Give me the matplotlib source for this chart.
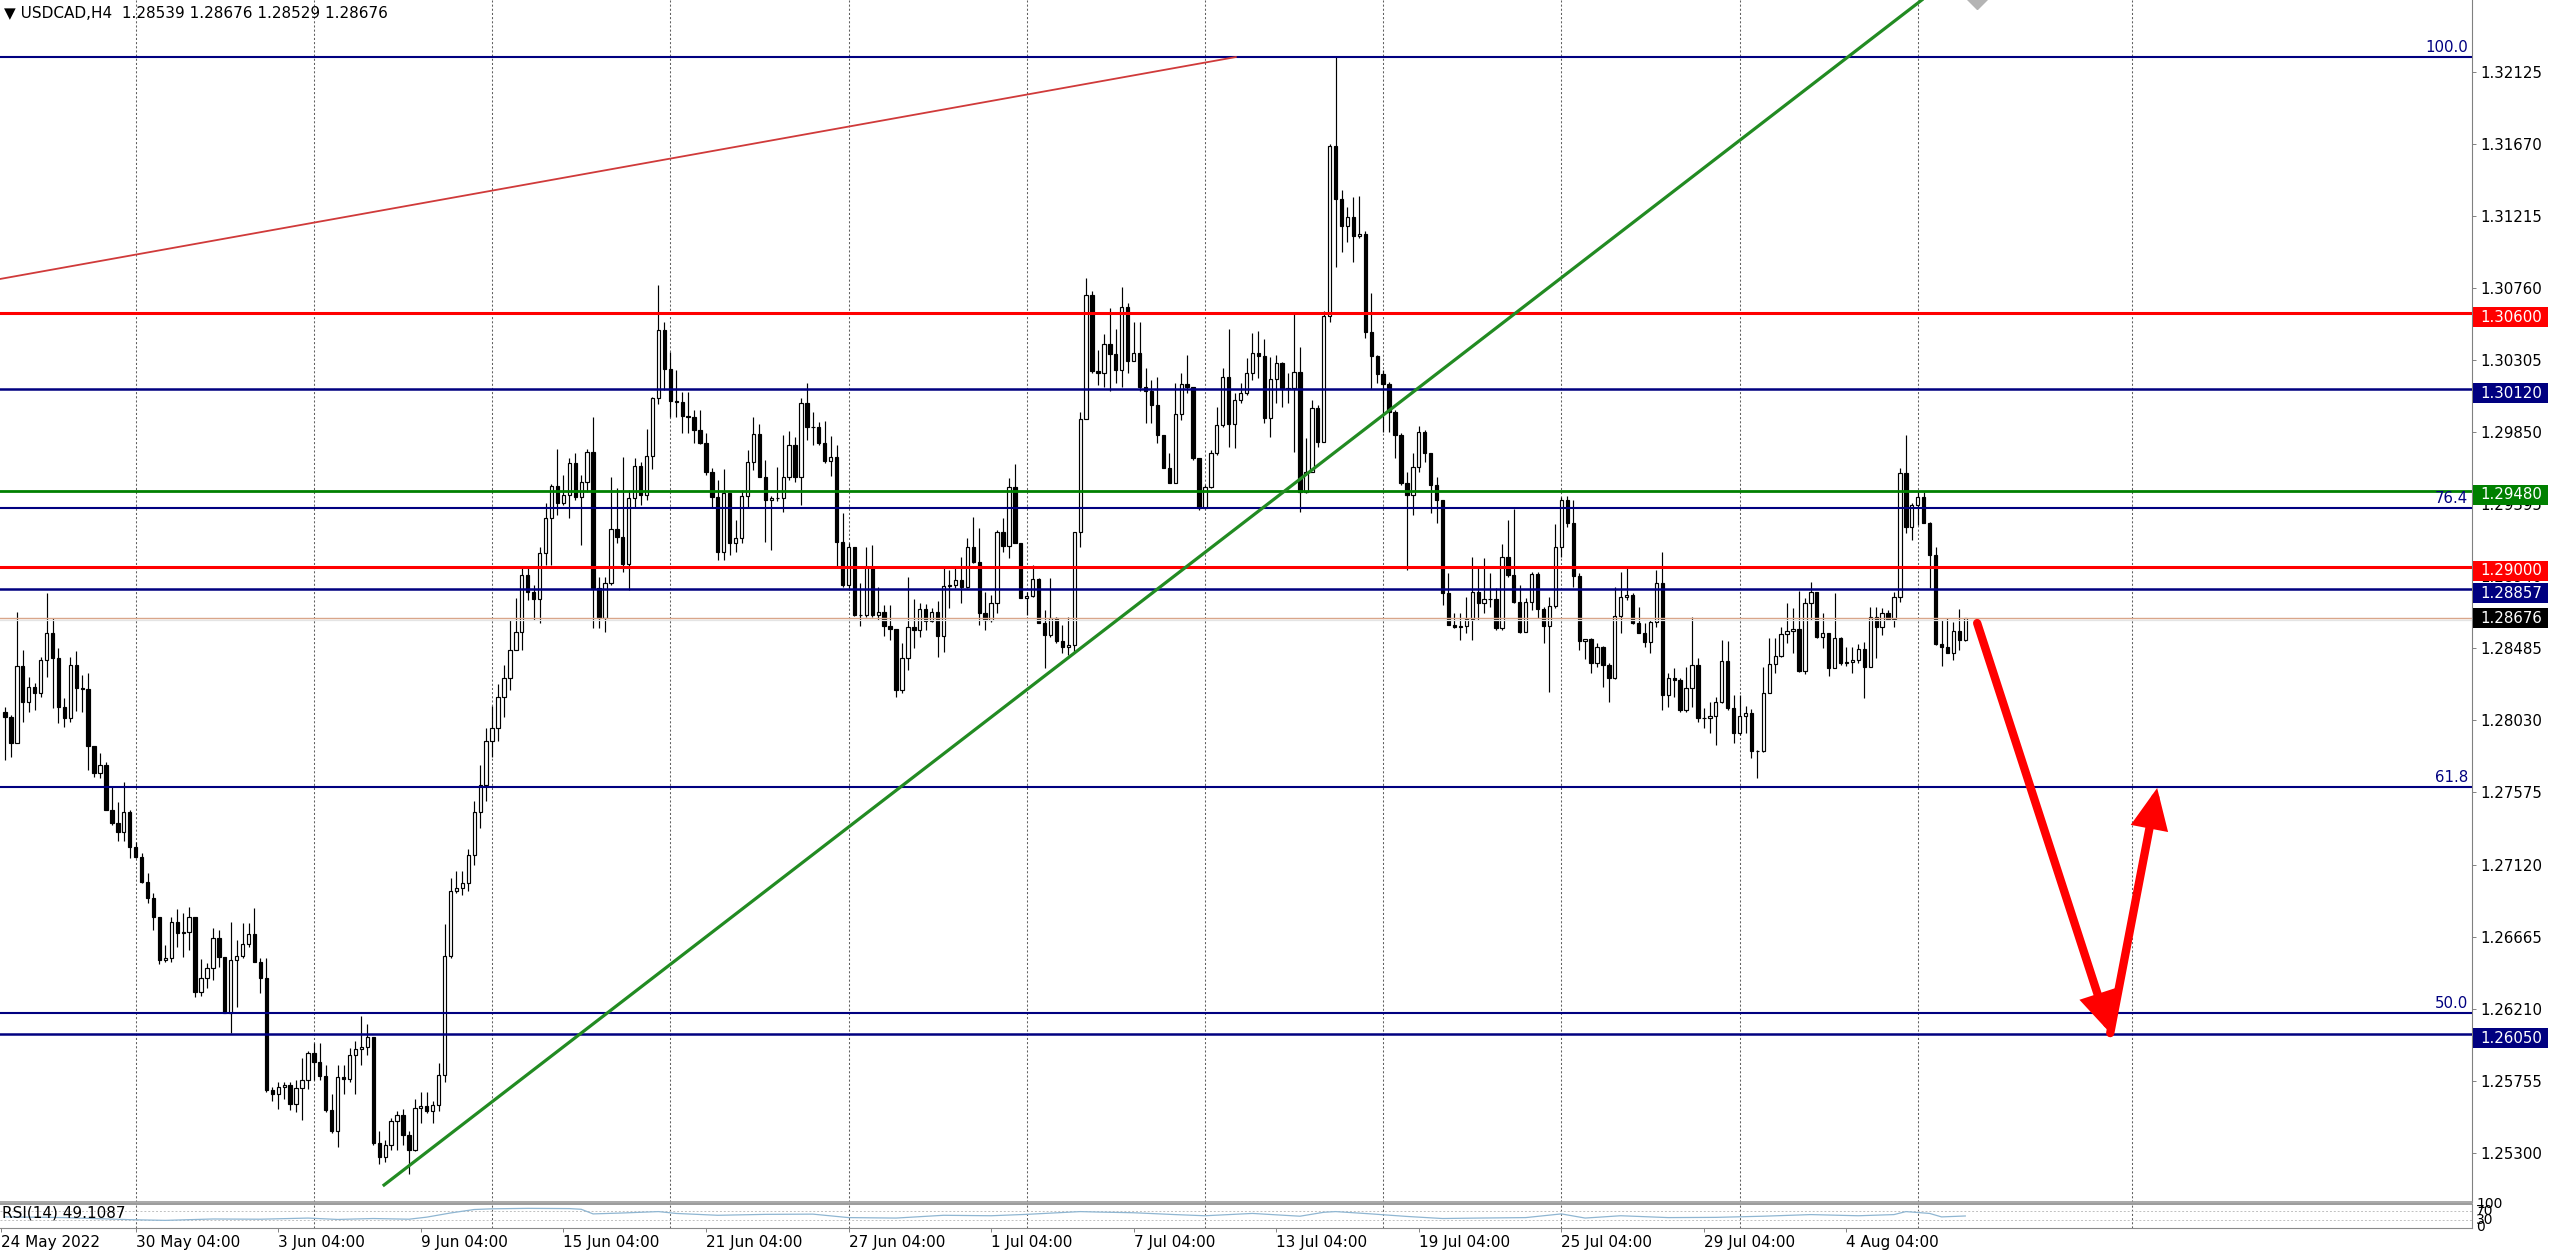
import matplotlib
matplotlib.use("Agg")
import matplotlib.pyplot as plt
import matplotlib.transforms as mtransforms
from matplotlib.patches import Rectangle
import numpy as np

plt.rcParams['font.family'] = ['DejaVu Sans']

# ---- candles (H4 bars, open of each bar = previous close) ----
first_open = 1.28081
closes = [
    1.28049, 1.27885, 1.28373, 1.28148, 1.28243, 1.28205, 1.28411, 1.28579, 1.28422, 1.28116,
    1.28043, 1.28379, 1.28232, 1.28226, 1.27870, 1.27700, 1.27748, 1.27464, 1.27380, 1.27323,
    1.27454, 1.27233, 1.27165, 1.27012, 1.26907, 1.26787, 1.26517, 1.26532, 1.26757, 1.26686,
    1.26692, 1.26787, 1.26318, 1.26402, 1.26465, 1.26654, 1.26538, 1.26181, 1.26517, 1.26545,
    1.26616, 1.26679, 1.26507, 1.26402, 1.25695, 1.25671, 1.25717, 1.25726, 1.25608, 1.25711,
    1.25757, 1.25931, 1.25876, 1.25784, 1.25573, 1.25435, 1.25778, 1.25769, 1.25916, 1.25955,
    1.25971, 1.26029, 1.25365, 1.25273, 1.25350, 1.25503, 1.25539, 1.25411, 1.25319, 1.25585,
    1.25594, 1.25564, 1.25603, 1.25793, 1.26543, 1.26956, 1.26971, 1.27002, 1.27180, 1.27450,
    1.27620, 1.27900, 1.27980, 1.28180, 1.28300, 1.28473, 1.28589, 1.28947, 1.28842, 1.28795,
    1.29088, 1.29305, 1.29509, 1.29405, 1.29452, 1.29652, 1.29441, 1.29532, 1.29721, 1.28863,
    1.28673, 1.28894, 1.29235, 1.29189, 1.29020, 1.29435, 1.29635, 1.29452, 1.29698, 1.30062,
    1.30493, 1.30247, 1.30047, 1.30041, 1.29953, 1.29946, 1.29862, 1.29778, 1.29599, 1.29441,
    1.29094, 1.29463, 1.29147, 1.29183, 1.29446, 1.29662, 1.29837, 1.29568, 1.29420, 1.29433,
    1.29433, 1.29568, 1.29768, 1.29568, 1.30031, 1.29883, 1.29879, 1.29782, 1.29669, 1.29690,
    1.29157, 1.28884, 1.29122, 1.28695, 1.28695, 1.28999, 1.28695, 1.28716, 1.28625, 1.28604,
    1.28221, 1.28421, 1.28621, 1.28603, 1.28733, 1.28657, 1.28712, 1.28564, 1.28880, 1.28884,
    1.28916, 1.28874, 1.29126, 1.29031, 1.28705, 1.28663, 1.28768, 1.29221, 1.29132, 1.29502,
    1.29147, 1.28804, 1.28817, 1.28922, 1.28642, 1.28569, 1.28678, 1.28533, 1.28495, 1.28505,
    1.29221, 1.29932, 1.30715, 1.30235, 1.30220, 1.30403, 1.30340, 1.30241, 1.30637, 1.30298,
    1.30346, 1.30136, 1.30110, 1.30020, 1.29831, 1.29620, 1.29526, 1.29963, 1.30151, 1.30136,
    1.29684, 1.29368, 1.29505, 1.29715, 1.29894, 1.30199, 1.29900, 1.30052, 1.30094, 1.30220,
    1.30346, 1.30329, 1.29936, 1.30182, 1.30287, 1.30119, 1.30125, 1.30226, 1.29473, 1.29599,
    1.29999, 1.29789, 1.30582, 1.31655, 1.31318, 1.31150, 1.31205, 1.31087, 1.31099, 1.30483,
    1.30329, 1.30216, 1.30153, 1.29978, 1.29831, 1.29526, 1.29453, 1.29627, 1.29852, 1.29716,
    1.29516, 1.29421, 1.28836, 1.28632, 1.28622, 1.28626, 1.28668, 1.28842, 1.28773, 1.28794,
    1.28794, 1.28611, 1.29059, 1.28948, 1.28779, 1.28590, 1.28779, 1.28954, 1.28731, 1.28626,
    1.28752, 1.29122, 1.29421, 1.29278, 1.28941, 1.28533, 1.28542, 1.28390, 1.28495, 1.28380,
    1.28295, 1.28689, 1.28811, 1.28821, 1.28647, 1.28584, 1.28527, 1.28653, 1.28895, 1.28190,
    1.28295, 1.28285, 1.28096, 1.28232, 1.28380, 1.28043, 1.28043, 1.28058, 1.28148, 1.28407,
    1.28106, 1.27948, 1.28058, 1.28075, 1.27837, 1.27837, 1.28205, 1.28386, 1.28436, 1.28573,
    1.28596, 1.28605, 1.28344, 1.28773, 1.28842, 1.28558, 1.28579, 1.28358, 1.28548, 1.28390,
    1.28401, 1.28411, 1.28478, 1.28369, 1.28685, 1.28621, 1.28710, 1.28668, 1.28811, 1.29589,
    1.29253, 1.29389, 1.29438, 1.29278, 1.29074, 1.28512, 1.28495, 1.28453, 1.28596, 1.28539,
    1.28676,
]
highs = [
    1.28116, 1.28064, 1.28716, 1.28474, 1.28306, 1.28268, 1.28428, 1.28836, 1.28674, 1.28485,
    1.28169, 1.28428, 1.28470, 1.28316, 1.28331, 1.27870, 1.27826, 1.27769, 1.27618, 1.27517,
    1.27643, 1.27464, 1.27264, 1.27195, 1.27064, 1.26938, 1.26785, 1.26612, 1.26791, 1.26837,
    1.26812, 1.26854, 1.26787, 1.26524, 1.26496, 1.26717, 1.26707, 1.26538, 1.26759, 1.26644,
    1.26749, 1.26749, 1.26848, 1.26528, 1.26528, 1.25717, 1.25747, 1.25747, 1.25747, 1.25763,
    1.25900, 1.25946, 1.25992, 1.25992, 1.25854, 1.25671, 1.25854, 1.25854, 1.25962, 1.26007,
    1.26161, 1.26115, 1.26029, 1.25441, 1.25380, 1.25518, 1.25564, 1.25579, 1.25441, 1.25640,
    1.25686, 1.25686, 1.25625, 1.25870, 1.26742, 1.27033, 1.27078, 1.27078, 1.27220, 1.27520,
    1.27750, 1.27980, 1.28120, 1.28260, 1.28380, 1.28663, 1.28800, 1.28989, 1.28989, 1.28884,
    1.29126, 1.29399, 1.29525, 1.29740, 1.29578, 1.29683, 1.29715, 1.29578, 1.29746, 1.29946,
    1.28936, 1.28936, 1.29568, 1.29494, 1.29690, 1.29483, 1.29683, 1.29662, 1.29866, 1.30072,
    1.30777, 1.30542, 1.30357, 1.30241, 1.30104, 1.30104, 1.29989, 1.29989, 1.29841, 1.29620,
    1.29547, 1.29614, 1.29467, 1.29294, 1.29484, 1.29736, 1.29946, 1.29898, 1.29673, 1.29446,
    1.29627, 1.29831, 1.29858, 1.29820, 1.30062, 1.30157, 1.29978, 1.29915, 1.29919, 1.29824,
    1.29768, 1.29336, 1.29147, 1.29122, 1.28894, 1.29126, 1.29136, 1.28873, 1.28758, 1.28758,
    1.28604, 1.28516, 1.28937, 1.28796, 1.28768, 1.28762, 1.28737, 1.28785, 1.28989, 1.28979,
    1.28989, 1.29063, 1.29179, 1.29315, 1.29242, 1.28842, 1.28821, 1.29231, 1.29309, 1.29557,
    1.29646, 1.29147, 1.28842, 1.29010, 1.28926, 1.28726, 1.28926, 1.28684, 1.28632, 1.28684,
    1.29221, 1.29978, 1.30824, 1.30740, 1.30367, 1.30466, 1.30635, 1.30500, 1.30767, 1.30666,
    1.30546, 1.30546, 1.30252, 1.30178, 1.30195, 1.29831, 1.29720, 1.30157, 1.30224, 1.30336,
    1.30136, 1.29684, 1.29515, 1.29736, 1.30010, 1.30252, 1.30498, 1.30094, 1.30157, 1.30315,
    1.30472, 1.30489, 1.30435, 1.30325, 1.30336, 1.30294, 1.30220, 1.30595, 1.30388, 1.29810,
    1.30052, 1.30020, 1.30616, 1.31668, 1.32223, 1.31377, 1.31272, 1.31335, 1.31339, 1.31121,
    1.30725, 1.30336, 1.30241, 1.30168, 1.29988, 1.29841, 1.29599, 1.29716, 1.29888, 1.29863,
    1.29716, 1.29568, 1.29421, 1.28958, 1.28705, 1.28705, 1.28811, 1.29063, 1.28990, 1.29053,
    1.28958, 1.28863, 1.29143, 1.29295, 1.29362, 1.28884, 1.28800, 1.28969, 1.28969, 1.28747,
    1.28811, 1.29270, 1.29438, 1.29446, 1.29421, 1.28962, 1.28542, 1.28548, 1.28516, 1.28500,
    1.28390, 1.28874, 1.28969, 1.28990, 1.28832, 1.28748, 1.28642, 1.28664, 1.28979, 1.29095,
    1.28327, 1.28358, 1.28295, 1.28369, 1.28685, 1.28421, 1.28106, 1.28148, 1.28180, 1.28537,
    1.28533, 1.28190, 1.28190, 1.28121, 1.28100, 1.27843, 1.28369, 1.28548, 1.28548, 1.28621,
    1.28769, 1.28737, 1.28849, 1.28800, 1.28906, 1.28842, 1.28710, 1.28579, 1.28836, 1.28558,
    1.28495, 1.28495, 1.28512, 1.28527, 1.28748, 1.28748, 1.28737, 1.28727, 1.28842, 1.29621,
    1.29831, 1.29400, 1.29474, 1.29474, 1.29285, 1.29126, 1.28664, 1.28674, 1.28653, 1.28731,
    1.28676,
]
lows = [
    1.27780, 1.27801, 1.27885, 1.28022, 1.28085, 1.28095, 1.28180, 1.28306, 1.28106, 1.28011,
    1.27990, 1.28022, 1.28089, 1.28085, 1.27717, 1.27675, 1.27668, 1.27464, 1.27370, 1.27271,
    1.27271, 1.27159, 1.27159, 1.27001, 1.26875, 1.26707, 1.26492, 1.26507, 1.26507, 1.26602,
    1.26538, 1.26581, 1.26286, 1.26290, 1.26339, 1.26391, 1.26475, 1.26181, 1.26055, 1.26223,
    1.26528, 1.26602, 1.26507, 1.26307, 1.25686, 1.25625, 1.25579, 1.25640, 1.25570, 1.25555,
    1.25509, 1.25701, 1.25763, 1.25763, 1.25555, 1.25426, 1.25340, 1.25671, 1.25747, 1.25671,
    1.25854, 1.25916, 1.25350, 1.25227, 1.25242, 1.25319, 1.25319, 1.25350, 1.25166, 1.25310,
    1.25487, 1.25549, 1.25487, 1.25564, 1.25747, 1.26528, 1.26941, 1.26925, 1.26950, 1.27120,
    1.27350, 1.27520, 1.27800, 1.27900, 1.28050, 1.28220, 1.28473, 1.28473, 1.28789, 1.28663,
    1.28642, 1.29010, 1.29010, 1.29325, 1.29389, 1.29305, 1.29420, 1.29136, 1.29473, 1.28610,
    1.28610, 1.28589, 1.28884, 1.29147, 1.28968, 1.28852, 1.29368, 1.29389, 1.29420, 1.29614,
    1.30030, 1.30115, 1.29946, 1.29946, 1.29845, 1.29841, 1.29778, 1.29774, 1.29578, 1.29374,
    1.29042, 1.29042, 1.29073, 1.29094, 1.29147, 1.29378, 1.29610, 1.29568, 1.29157, 1.29105,
    1.29416, 1.29347, 1.29547, 1.29536, 1.29389, 1.29799, 1.29768, 1.29768, 1.29652, 1.29572,
    1.29000, 1.28873, 1.28852, 1.28689, 1.28625, 1.28685, 1.28685, 1.28663, 1.28562, 1.28537,
    1.28179, 1.28200, 1.28347, 1.28484, 1.28558, 1.28600, 1.28653, 1.28432, 1.28463, 1.28737,
    1.28863, 1.28768, 1.28863, 1.29021, 1.28632, 1.28600, 1.28653, 1.28705, 1.29094, 1.29052,
    1.29147, 1.28800, 1.28695, 1.28810, 1.28642, 1.28358, 1.28558, 1.28516, 1.28453, 1.28443,
    1.28463, 1.29126, 1.29932, 1.30220, 1.30146, 1.30136, 1.30109, 1.30157, 1.30136, 1.30220,
    1.30304, 1.30109, 1.29904, 1.29905, 1.29778, 1.29620, 1.29526, 1.29526, 1.29925, 1.30094,
    1.29673, 1.29357, 1.29368, 1.29494, 1.29705, 1.29883, 1.29757, 1.29747, 1.30031, 1.30083,
    1.30178, 1.30188, 1.29904, 1.29820, 1.30031, 1.30010, 1.30031, 1.29726, 1.29347, 1.29463,
    1.29599, 1.29757, 1.29789, 1.30546, 1.30893, 1.30988, 1.31051, 1.30925, 1.31072, 1.30441,
    1.30119, 1.30157, 1.29852, 1.29852, 1.29684, 1.29515, 1.28979, 1.29326, 1.29600, 1.29663,
    1.29337, 1.29274, 1.28758, 1.28632, 1.28611, 1.28537, 1.28579, 1.28537, 1.28663, 1.28710,
    1.28747, 1.28600, 1.28600, 1.28937, 1.28773, 1.28579, 1.28590, 1.28726, 1.28674, 1.28516,
    1.28211, 1.28737, 1.29063, 1.29253, 1.28874, 1.28474, 1.28415, 1.28327, 1.28369, 1.28243,
    1.28148, 1.28289, 1.28579, 1.28790, 1.28639, 1.28580, 1.28495, 1.28453, 1.28622, 1.28096,
    1.28117, 1.28180, 1.28080, 1.28080, 1.28117, 1.28022, 1.27980, 1.27948, 1.27875, 1.28138,
    1.28096, 1.27885, 1.27938, 1.27948, 1.27790, 1.27664, 1.27832, 1.28201, 1.28327, 1.28428,
    1.28516, 1.28453, 1.28338, 1.28323, 1.28664, 1.28548, 1.28485, 1.28310, 1.28358, 1.28380,
    1.28373, 1.28327, 1.28390, 1.28169, 1.28369, 1.28422, 1.28569, 1.28664, 1.28621, 1.28779,
    1.29211, 1.29169, 1.29263, 1.29274, 1.28863, 1.28505, 1.28373, 1.28453, 1.28411, 1.28474,
    1.28529,
]

# RSI(14)
rsi_bars = [0, 10, 21, 27, 35, 43, 51, 56, 62, 68, 71, 75, 79, 82, 88, 95, 97, 99, 104, 110,
            113, 120, 128, 136, 142, 150, 158, 166, 172, 181, 184, 190, 197, 202, 210, 218,
            222, 224, 230, 236, 242, 248, 256, 262, 266, 272, 280, 288, 296, 304, 312, 318,
            320, 324, 326, 330]
rsi_vals = [45, 42, 33, 30, 36, 35, 40, 34, 38, 35, 44, 62, 77, 80, 82, 81, 78, 58, 62, 68,
            60, 52, 56, 57, 42, 40, 52, 50, 56, 68, 66, 63, 55, 50, 60, 48,
            65, 68, 58, 47, 38, 40, 42, 58, 40, 50, 42, 43, 48, 55, 50, 55,
            68, 60, 45, 49]

price_ticks = [1.25300, 1.25755, 1.26210, 1.26665, 1.27120, 1.27575, 1.28030, 1.28485,
               1.28940, 1.29395, 1.29850, 1.30305, 1.30760, 1.31215, 1.31670, 1.32125]
date_bars = [-0.6, 22, 46, 70, 94, 118, 142, 166, 190, 214, 238, 262, 286, 310]
date_labels = ['24 May 2022', '30 May 04:00', '3 Jun 04:00', '9 Jun 04:00', '15 Jun 04:00',
               '21 Jun 04:00', '27 Jun 04:00', '1 Jul 04:00', '7 Jul 04:00', '13 Jul 04:00',
               '19 Jul 04:00', '25 Jul 04:00', '29 Jul 04:00', '4 Aug 04:00']
grid_bars = [22, 52, 82, 112, 142, 172, 202, 232, 262, 292, 322, 358]

level_prices = [1.30600, 1.30120, 1.29480, 1.29000, 1.28857, 1.26050]
level_colors = ['#ff0000', '#000080', '#008000', '#ff0000', '#000080', '#000080']
fib_prices = [1.32220, 1.29371, 1.27608, 1.26183]
fib_names = ['100.0', '76.4', '61.8', '50.0']
last_price = 1.28676

green_trend = ([63.6, 335.0], [1.25091, 1.32933])
red_trend = ([-0.84, 207.2], [1.30816, 1.32217])
arrow_down = ((332.0, 1.28644), (354.4, 1.26056))
arrow_up = ((354.4, 1.26056), (362.3, 1.27603))

# ---- figure layout (pixels of the 2560x1252 screenshot) ----
W, H = 2560.0, 1252.0
fig = plt.figure(figsize=(W / 100, H / 100), dpi=100, facecolor='white')
ax = fig.add_axes([0, (H - 1201.5) / H, 2472 / W, 1201.5 / H])
ax2 = fig.add_axes([0, (H - 1228) / H, 2472 / W, 24.5 / H])

ymin, ymax = 1.24993, 1.32577
xmin, xmax = -0.84, 415.3
ax.set_xlim(xmin, xmax)
ax.set_ylim(ymin, ymax)
ax2.set_xlim(xmin, xmax)
ax2.set_ylim(-3, 103)
ppx = (ymax - ymin) / 1201.5   # price per pixel

# candles
c = np.array(closes)
o = np.concatenate([[first_open], c[:-1]])
hi = np.maximum(np.array(highs), np.maximum(o, c))
lo = np.minimum(np.array(lows), np.minimum(o, c))
x = np.arange(len(c))
up = c >= o
ax.vlines(x, lo, hi, color='black', lw=0.85, zorder=2)
bottom = np.minimum(o, c)
height = np.maximum(np.abs(c - o), ppx * 0.3)
ax.bar(x[up], height[up], bottom=bottom[up], width=0.56, facecolor='white',
       edgecolor='black', linewidth=0.85, zorder=3)
ax.bar(x[~up], height[~up], bottom=bottom[~up], width=0.56, facecolor='black',
       edgecolor='black', linewidth=0.85, zorder=3)

# vertical grid
for gb in grid_bars:
    for a in (ax, ax2):
        a.axvline(gb, color='#606060', lw=0.75, ls=(0, (2, 2)), zorder=1)

# horizontal levels
for p, col in zip(level_prices, level_colors):
    lw = 2.2 if col == '#ff0000' else (2.0 if col == '#008000' else 1.8)
    ax.axhline(p, color=col, lw=lw, zorder=5)
blend = mtransforms.blended_transform_factory(ax.transAxes, ax.transData)
for p, name in zip(fib_prices, fib_names):
    ax.axhline(p, color='#000080', lw=1.5, zorder=5)
    ax.text(2468 / 2472, p + 2 * ppx, name, transform=blend, ha='right', va='bottom',
            color='#000080', fontsize=10.8, zorder=6)
ax.axhline(last_price, color='#d9a68a', lw=1.0, zorder=5)
ax.axhline(last_price - 2 * ppx, color='#e4e4e4', lw=0.9, zorder=4)

# trend lines
ax.plot(*green_trend, color='#228b22', lw=2.3, zorder=6, solid_capstyle='butt')
ax.plot(*red_trend, color='#d03a3a', lw=1.3, zorder=6)

# red arrows
for start, tip in (arrow_down, arrow_up):
    ax.annotate('', xy=tip, xytext=start,
                arrowprops=dict(arrowstyle='-|>,head_length=1.3,head_width=0.6',
                                color='#ff0000', lw=6, mutation_scale=15,
                                shrinkA=0, shrinkB=0, capstyle='round',
                                joinstyle='miter'), zorder=8)
ax.plot([332.0], [ymax + 4 * ppx], marker='D', ms=13, color='#b4b4b4', zorder=7,
        clip_on=True)

# price axis
ax.yaxis.tick_right()
ax.set_yticks(price_ticks)
ax.set_yticklabels([f'{t:.5f}' for t in price_ticks])
ax.tick_params(axis='y', direction='out', length=3, width=0.7, color='#808080',
               pad=3, labelsize=10.8, labelcolor='black')
ax.set_xticks([])
for s in ('top', 'left'):
    ax.spines[s].set_visible(False)
ax.spines['right'].set_color('#808080')
ax.spines['bottom'].set_color('#9a9a9a')
ax.spines['bottom'].set_linewidth(1.2)

# price labels in boxes
box_w = 75 / 2472.0
for p, col in list(zip(level_prices, level_colors)) + [(last_price, '#000000')]:
    off = 0 if col == '#000000' else 4 * ppx
    ax.add_patch(Rectangle((1.0005, p - off - 10 * ppx), box_w, 20 * ppx, transform=blend,
                           facecolor=col, edgecolor='none', clip_on=False, zorder=10))
    ax.text(1.0 + 8 / 2472.0, p - off, f'{p:.5f}', transform=blend, ha='left',
            va='center', color='white', fontsize=10.8, zorder=11, clip_on=False)

# title
fig.text(4 / W, 1 - 13 / H, '\u25bc USDCAD,H4  1.28539 1.28676 1.28529 1.28676',
         fontsize=11, va='center', ha='left', color='black')

# RSI pane
ax2.plot(rsi_bars, rsi_vals, color='#8fb6d2', lw=0.9, zorder=3)
for lv in (70, 30):
    ax2.axhline(lv, color='#c0c0c0', lw=0.7, ls=(0, (2, 2)), zorder=2)
ax2.text(2 / 2472.0, 0.62, 'RSI(14) 49.1087', transform=ax2.transAxes, fontsize=11,
         va='center', ha='left', color='black')
ax2.set_yticks([])
ax2.spines['left'].set_visible(False)
for s in ('top', 'bottom', 'right'):
    ax2.spines[s].set_color('#8a8a8a')
ax2.spines['top'].set_linewidth(1.2)
rsi_blend = mtransforms.blended_transform_factory(ax2.transAxes, ax2.transData)
for val in (100, 70, 30, 0):
    ax2.text(1.0 + 4 / 2472.0, val, str(val), transform=rsi_blend, fontsize=10,
             va='center', ha='left', clip_on=False)

ax2.set_xticks(date_bars)
ax2.set_xticklabels(date_labels)
for lbl in ax2.get_xticklabels():
    lbl.set_ha('left')
ax2.tick_params(axis='x', direction='out', length=3, width=0.7, color='#808080',
                pad=2, labelsize=11)

fig.savefig('out.png', dpi=100, facecolor='white')
